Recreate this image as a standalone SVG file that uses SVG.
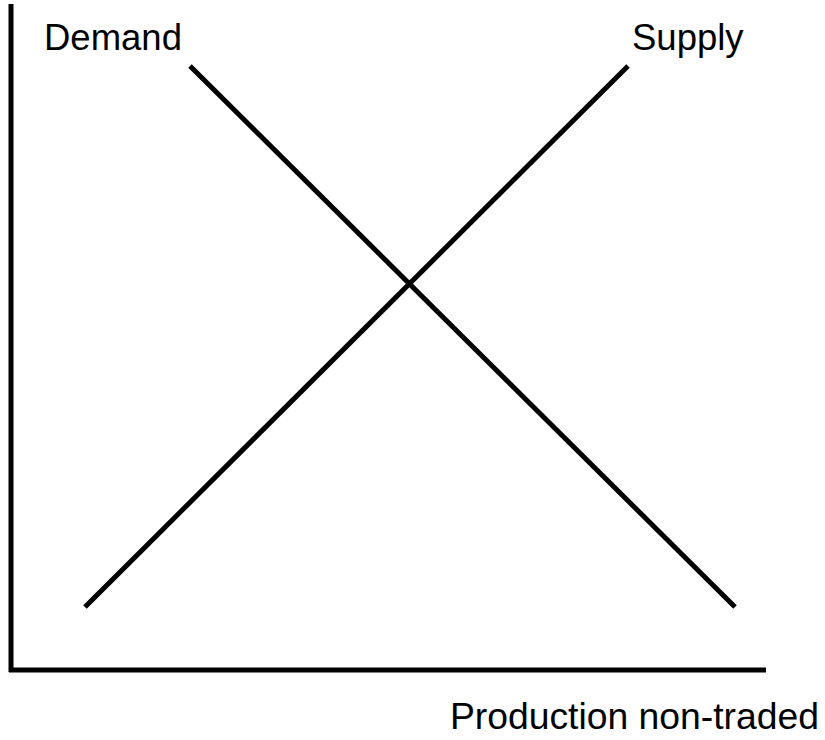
<svg xmlns="http://www.w3.org/2000/svg" width="825" height="740" viewBox="0 0 825 740">
<style>
.ln{stroke:#000;stroke-width:5;fill:none}
.t{font-family:"Liberation Sans",Arial,sans-serif;font-size:36.5px;fill:#000}
</style>
<rect width="825" height="740" fill="#fff"/>
<g id="axes">
<path class="ln" d="M11,4 V672 M9,670 H766"/>
</g>
<g id="connectors">
<line id="demand-line" class="ln" x1="190" y1="66" x2="735" y2="607"/>
<line id="supply-line" class="ln" x1="85" y1="607" x2="628" y2="66"/>
</g>
<g id="demand"><text class="t" x="44" y="50">Demand</text></g>
<g id="supply"><text class="t" x="632" y="50">Supply</text></g>
<g id="xlabel"><text class="t" x="819" y="729" text-anchor="end" style="font-size:37.3px">Production non-traded</text></g>
</svg>
